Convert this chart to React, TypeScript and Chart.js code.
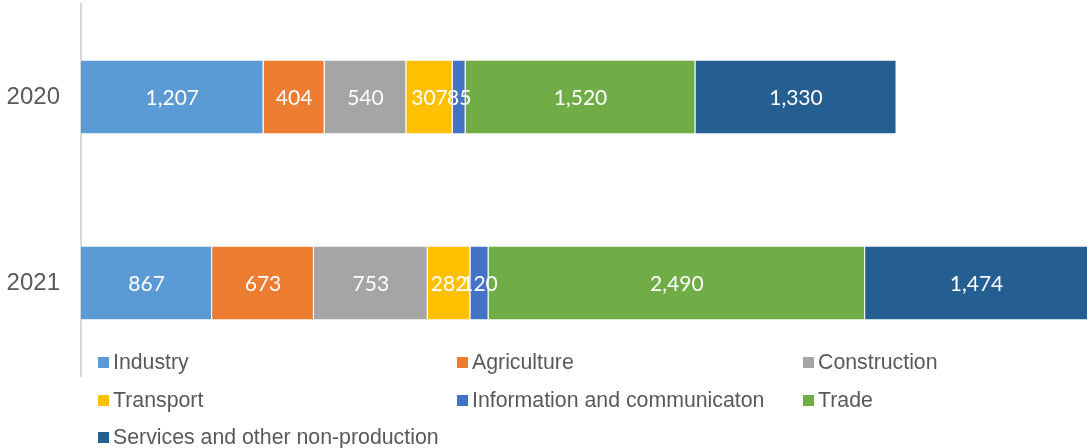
import React, { useEffect, useRef } from "react";
import { Chart, registerables } from "chart.js";

Chart.register(...registerables);

const categories = ["2020", "2021"];
const seriesNames = [
  "Industry",
  "Agriculture",
  "Construction",
  "Transport",
  "Information and communicaton",
  "Trade",
  "Services and other non-production",
];
const industry = [1207, 867];
const agriculture = [404, 673];
const construction = [540, 753];
const transport = [307, 282];
const information = [85, 120];
const trade = [1520, 2490];
const services = [1330, 1474];
const seriesValues = [industry, agriculture, construction, transport, information, trade, services];
const colors = ["#5B9BD5", "#ED7D31", "#A5A5A5", "#FFC000", "#4472C4", "#70AD47", "#255E91"];

const legendPositions = [
  { x: 98, y: 362 },
  { x: 457, y: 362 },
  { x: 803, y: 362 },
  { x: 98, y: 400 },
  { x: 457, y: 400 },
  { x: 803, y: 400 },
  { x: 98, y: 437 },
];

const dataLabelPlugin = {
  id: "dataLabels",
  afterDatasetsDraw(chart: any) {
    const ctx = chart.ctx;
    ctx.save();
    ctx.fillStyle = "#ffffff";
    ctx.font = "21px Lato, 'Open Sans', sans-serif";
    ctx.textAlign = "center";
    ctx.textBaseline = "middle";
    chart.data.datasets.forEach((ds: any, i: number) => {
      const meta = chart.getDatasetMeta(i);
      meta.data.forEach((bar: any, j: number) => {
        const p = bar.getProps(["x", "base", "y"], true);
        const cx = (p.x + p.base) / 2;
        ctx.fillText(Number(ds.data[j]).toLocaleString("en-US"), cx, p.y + 1);
      });
    });
    ctx.restore();
  },
};

const legendPlugin = {
  id: "customLegend",
  afterDraw(chart: any) {
    const ctx = chart.ctx;
    ctx.save();
    ctx.font = "21.3px 'Liberation Sans', Arial, sans-serif";
    ctx.textAlign = "left";
    ctx.textBaseline = "middle";
    chart.data.datasets.forEach((ds: any, i: number) => {
      const pos = legendPositions[i];
      ctx.fillStyle = ds.backgroundColor;
      ctx.fillRect(pos.x, pos.y - 5, 11, 11);
      ctx.fillStyle = "#595959";
      ctx.fillText(ds.label, pos.x + 15, pos.y + 1);
    });
    ctx.restore();
  },
};

export default function App() {
  const ref = useRef<HTMLCanvasElement>(null);
  useEffect(() => {
    if (!ref.current) return;
    const totals = categories.map((_, j) => seriesValues.reduce((s, arr) => s + arr[j], 0));
    const chart = new Chart(ref.current, {
      type: "bar",
      data: {
        labels: categories,
        datasets: seriesNames.map((name, i) => ({
          label: name,
          data: seriesValues[i],
          backgroundColor: colors[i],
          borderColor: "rgba(255,255,255,0.7)",
          borderWidth: 1,
          barPercentage: 0.4,
          categoryPercentage: 1,
        })),
      },
      options: {
        indexAxis: "y",
        responsive: false,
        animation: false,
        layout: { padding: { left: 0, top: 4, right: 2, bottom: 72 } },
        plugins: { legend: { display: false }, tooltip: { enabled: false } },
        scales: {
          x: {
            stacked: true,
            display: false,
            min: 0,
            max: Math.max(...totals),
          },
          y: {
            stacked: true,
            grid: { display: false, drawTicks: false },
            border: { display: true, color: "#d9d9d9", width: 2 },
            ticks: {
              color: "#595959",
              font: { family: "'Liberation Sans', Arial, sans-serif", size: 24 },
              padding: 21,
            },
            afterFit(scale: any) {
              scale.width = 81;
              scale.paddingTop = 0;
              scale.paddingBottom = 0;
            },
          },
        },
      },
      plugins: [dataLabelPlugin, legendPlugin],
    } as any);
    return () => chart.destroy();
  }, []);
  return (
    <div style={{ position: "absolute", left: 0, top: 0, width: 1090, height: 448, background: "#fff" }}>
      <canvas ref={ref} width={1090} height={448} />
    </div>
  );
}
